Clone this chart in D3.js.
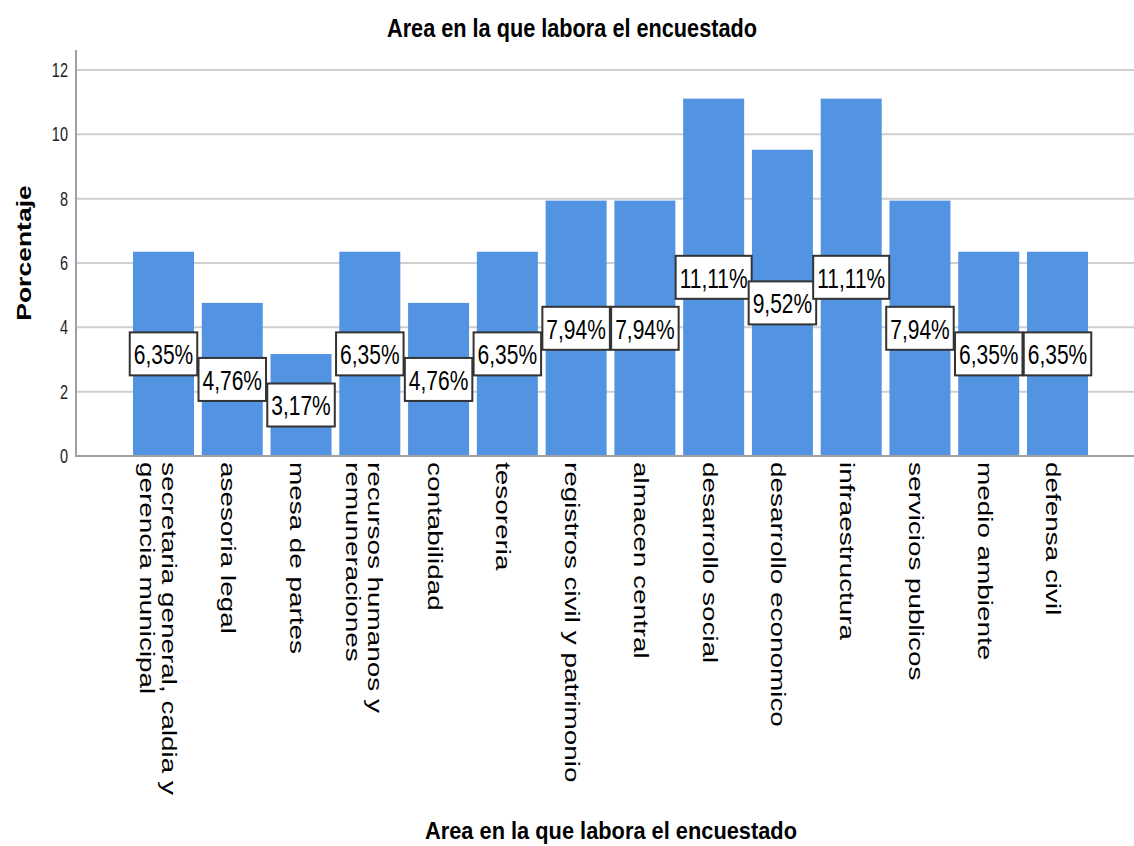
<!DOCTYPE html>
<html>
<head>
<meta charset="utf-8">
<script src="https://cdn.jsdelivr.net/npm/d3@7"></script>
<style>
  body { margin: 0; background: #fff; }
  text { font-family: "Liberation Sans", Arial, sans-serif; fill: #000; }
</style>
</head>
<body>
<div id="chart"></div>
<script>
// data
const areas = [
  ["secretaria general, caldia y", "gerencia municipal"],
  ["asesoria legal"],
  ["mesa de partes"],
  ["recursos humanos y", "remuneraciones"],
  ["contabilidad"],
  ["tesoreria"],
  ["registros civil y patrimonio"],
  ["almacen central"],
  ["desarrollo social"],
  ["desarrollo economico"],
  ["infraestructura"],
  ["servicios publicos"],
  ["medio ambiente"],
  ["defensa civil"]
];
const porcentaje = [6.35, 4.76, 3.17, 6.35, 4.76, 6.35, 7.94, 7.94, 11.11, 9.52, 11.11, 7.94, 6.35, 6.35];
const yTicks = [0, 2, 4, 6, 8, 10, 12];
const titulo = "Area en la que labora el encuestado";
const yTitulo = "Porcentaje";

const width = 1134, height = 846;
const k = 1.36; // the picture is stretched vertically
const axisX = 76, axisRight = 1134, axisBottom = 456, axisTop = 50;

const svg = d3.select("#chart").append("svg")
  .attr("width", width).attr("height", height);

const y = d3.scaleLinear().domain([0, 12]).range([axisBottom, 70]);
const x = d3.scaleBand()
  .domain(d3.range(porcentaje.length))
  .range([133, 1088])
  .paddingInner(0.113)
  .paddingOuter(0);

// grid lines
svg.append("g").selectAll("line")
  .data(yTicks.filter(d => d > 0))
  .enter().append("line")
  .attr("x1", axisX).attr("x2", axisRight)
  .attr("y1", d => y(d)).attr("y2", d => y(d))
  .attr("stroke", "#cfcfcf").attr("stroke-width", 2);

// tick labels
svg.append("g").selectAll("text")
  .data(yTicks)
  .enter().append("text")
  .attr("transform", d => "translate(68," + y(d) + ") scale(1," + k + ")")
  .attr("dy", "0.36em")
  .attr("text-anchor", "end")
  .style("font-size", "14.5px")
  .style("fill", "#222")
  .text(d => d);

// bars
svg.append("g").selectAll("rect")
  .data(porcentaje)
  .enter().append("rect")
  .attr("x", (d, i) => x(i))
  .attr("y", d => y(d))
  .attr("width", x.bandwidth())
  .attr("height", d => y(0) - y(d))
  .attr("fill", "#5294e2");

// axes lines
svg.append("line")
  .attr("x1", axisX).attr("x2", axisX)
  .attr("y1", axisTop).attr("y2", axisBottom + 1)
  .attr("stroke", "#a0a0a0").attr("stroke-width", 2);
svg.append("line")
  .attr("x1", axisX).attr("x2", axisRight)
  .attr("y1", axisBottom).attr("y2", axisBottom)
  .attr("stroke", "#a0a0a0").attr("stroke-width", 2);

// value boxes
const fmt = d => d.toFixed(2).replace(".", ",") + "%";
const boxes = svg.append("g").selectAll("g")
  .data(porcentaje)
  .enter().append("g")
  .attr("transform", (d, i) => "translate(" + (x(i) + x.bandwidth() / 2) + "," + y(d / 2) + ")");
boxes.append("rect").attr("class", "box");
boxes.append("text")
  .attr("transform", "scale(1," + k + ")")
  .attr("dy", "0.36em")
  .attr("text-anchor", "middle")
  .style("font-size", "21px")
  .text(fmt);
boxes.each(function() {
  const g = d3.select(this);
  const w = g.select("text").node().getComputedTextLength() + 8;
  g.select("rect")
    .attr("x", -w / 2).attr("y", -21.5)
    .attr("width", w).attr("height", 43)
    .attr("fill", "#fff")
    .attr("stroke", "#333").attr("stroke-width", 2);
});
boxes.select("text").raise();

// category labels, rotated
const cats = svg.append("g").selectAll("text")
  .data(areas)
  .enter().append("text")
  .attr("transform", (d, i) => "translate(" + (x(i) + x.bandwidth() / 2) + ",462) scale(1," + k + ") rotate(90)")
  .style("font-size", "20.5px");
cats.selectAll("tspan")
  .data(d => d.map((t, j) => ({t: t, j: j, n: d.length})))
  .enter().append("tspan")
  .attr("x", 0)
  .attr("y", d => d.n === 1 ? 11 : (d.j === 0 ? 1.5 : 24))
  .text(d => d.t);

// titles
svg.append("text")
  .attr("transform", "translate(572,28) scale(1," + k + ")")
  .attr("dy", "0.36em")
  .attr("text-anchor", "middle")
  .attr("textLength", 370)
  .attr("lengthAdjust", "spacingAndGlyphs")
  .style("font-size", "18.5px")
  .style("font-weight", "bold")
  .text(titulo);

svg.append("text")
  .attr("transform", "translate(611,830) scale(1," + k + ")")
  .attr("dy", "0.36em")
  .attr("text-anchor", "middle")
  .attr("textLength", 372)
  .attr("lengthAdjust", "spacingAndGlyphs")
  .style("font-size", "18px")
  .style("font-weight", "bold")
  .text(titulo);

svg.append("text")
  .attr("transform", "translate(31,253) scale(1," + k + ") rotate(-90)")
  .attr("text-anchor", "middle")
  .style("font-size", "19.5px")
  .style("font-weight", "bold")
  .text(yTitulo);
</script>
</body>
</html>
